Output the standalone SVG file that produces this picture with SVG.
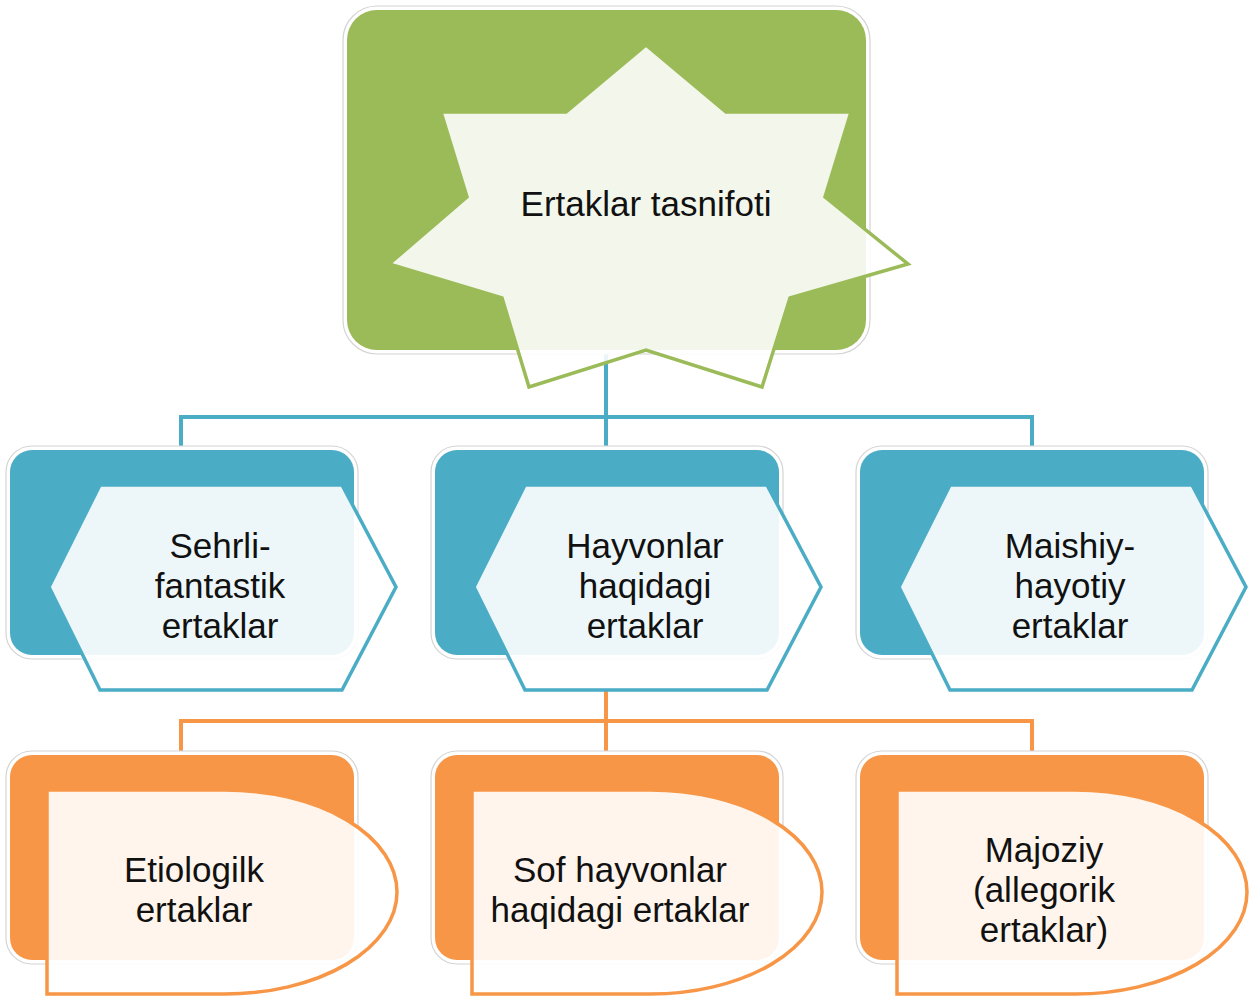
<svg xmlns="http://www.w3.org/2000/svg" width="1250" height="996" viewBox="0 0 1250 996">
<defs>
<style>
.halo{fill:#fff;stroke:#d4d4d4;stroke-width:1.2}
.green{fill:#9bbb59}
.blue{fill:#4bacc6}
.orange{fill:#f79646}
.star{fill:#fff;fill-opacity:0.88;stroke:#9bbb59;stroke-width:3.5;stroke-linejoin:miter}
.hex{fill:#fff;fill-opacity:0.9;stroke:#4bacc6;stroke-width:3.5}
.delay{fill:#fff;fill-opacity:0.9;stroke:#f79646;stroke-width:3.5}
.cb{fill:none;stroke:#4bacc6;stroke-width:4}
.co{fill:none;stroke:#f79646;stroke-width:4}
.cw{fill:none;stroke:#fff;stroke-width:7}
text{font-family:"Liberation Sans",Arial,sans-serif;font-size:35px;fill:#111;text-anchor:middle}
</style>
</defs>
<g id="connectors">
<path class="cw" d="M606 350 V447 M181 447 V417 H1032 V447"/>
<path class="cb" d="M606 350 V447 M181 447 V417 H1032 V447"/>
<path class="cw" d="M606 690 V752 M181 752 V721 H1032 V752"/>
<path class="co" d="M606 690 V752 M181 752 V721 H1032 V752"/>
</g>
<g id="root">
<rect class="halo" x="343" y="6" width="527" height="348" rx="34"/>
<rect class="green" x="347" y="10" width="519" height="340" rx="30"/>
<polygon class="star" points="646,45 726,112 851,112 825,197 908,264 790,298 762,387 646,350 529,387 502,298 389,264 467,197 441,112 566,112"/>
<text x="646" y="216">Ertaklar tasnifoti</text>
</g>
<g id="n-sehrli">
<rect class="halo" x="6" y="446" width="352" height="213" rx="26"/>
<rect class="blue" x="10" y="450" width="344" height="205" rx="22"/>
<polygon class="hex" points="100,485 342,485 396,587 342,690 100,690 49,587"/>
<text x="220" y="558">Sehrli-</text>
<text x="220" y="598">fantastik</text>
<text x="220" y="638">ertaklar</text>
</g>
<g id="n-hayvonlar">
<rect class="halo" x="431" y="446" width="352" height="213" rx="26"/>
<rect class="blue" x="435" y="450" width="344" height="205" rx="22"/>
<polygon class="hex" points="525,485 767,485 821,587 767,690 525,690 474,587"/>
<text x="645" y="558">Hayvonlar</text>
<text x="645" y="598">haqidagi</text>
<text x="645" y="638">ertaklar</text>
</g>
<g id="n-maishiy">
<rect class="halo" x="856" y="446" width="352" height="213" rx="26"/>
<rect class="blue" x="860" y="450" width="344" height="205" rx="22"/>
<polygon class="hex" points="950,485 1192,485 1246,587 1192,690 950,690 899,587"/>
<text x="1070" y="558">Maishiy-</text>
<text x="1070" y="598">hayotiy</text>
<text x="1070" y="638">ertaklar</text>
</g>
<g id="n-etiologik">
<rect class="halo" x="6" y="751" width="352" height="213" rx="26"/>
<rect class="orange" x="10" y="755" width="344" height="205" rx="22"/>
<path class="delay" d="M47 790 H225 A172 102 0 0 1 225 994 H47 Z"/>
<text x="194" y="882">Etiologilk</text>
<text x="194" y="922">ertaklar</text>
</g>
<g id="n-sof">
<rect class="halo" x="431" y="751" width="352" height="213" rx="26"/>
<rect class="orange" x="435" y="755" width="344" height="205" rx="22"/>
<path class="delay" d="M472 790 H650 A172 102 0 0 1 650 994 H472 Z"/>
<text x="620" y="882">Sof hayvonlar</text>
<text x="620" y="922">haqidagi ertaklar</text>
</g>
<g id="n-majoziy">
<rect class="halo" x="856" y="751" width="352" height="213" rx="26"/>
<rect class="orange" x="860" y="755" width="344" height="205" rx="22"/>
<path class="delay" d="M897 790 H1075 A172 102 0 0 1 1075 994 H897 Z"/>
<text x="1044" y="862">Majoziy</text>
<text x="1044" y="902">(allegorik</text>
<text x="1044" y="942">ertaklar)</text>
</g>
</svg>
